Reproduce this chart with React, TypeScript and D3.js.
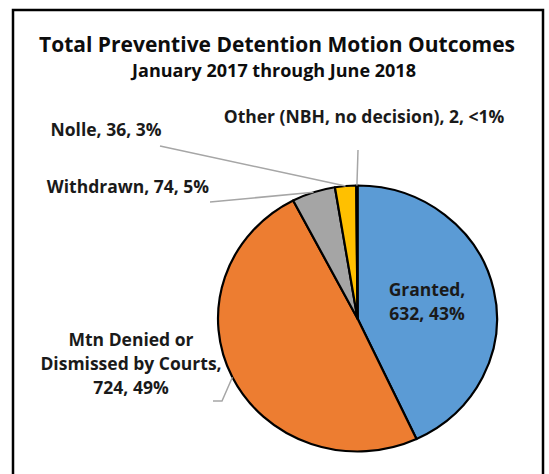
import React from 'react';
import * as d3 from 'd3';

const categories = ['Granted', 'Mtn Denied or Dismissed by Courts', 'Withdrawn', 'Nolle', 'Other (NBH, no decision)'];
const counts = [632, 724, 74, 36, 2];
const percentLabels = ['43%', '49%', '5%', '3%', '<1%'];
const sliceColors = ['#5B9BD5', '#ED7D31', '#A5A5A5', '#FFC000', '#4472C4'];

const W = 549;
const H = 474;
const cx = 357.5;
const cy = 318.5;
const rx = 139.5;
const ry = 133;
const FONT = '"Open Sans", Lato, sans-serif';

// label placement: text center, baselines, leader line start
const labelLayout = [
  { x: 427, y: 296, lines: ['Granted,', '{v}, {p}'], leader: null },
  { x: 131, y: 346, lines: ['Mtn Denied or', 'Dismissed by Courts,', '{v}, {p}'], leader: [[213, 401], [222, 401]] },
  { x: 128, y: 193, lines: ['{c}, {v}, {p}'], leader: [[210, 202]] },
  { x: 106, y: 136, lines: ['{c}, {v}, {p}'], leader: [[160, 146]] },
  { x: 364, y: 123, lines: ['{c}, {v}, {p}'], leader: [[358, 150]] },
];

const App = () => {
  const pie = d3.pie<number>().sort(null).value(d => d);
  const arcs = pie(counts);
  const arc = d3.arc<d3.PieArcDatum<number>>().innerRadius(0).outerRadius(rx);

  const edgePoint = (a: d3.PieArcDatum<number>) => {
    const mid = (a.startAngle + a.endAngle) / 2;
    return [cx + Math.sin(mid) * rx, cy - Math.cos(mid) * ry];
  };
  const line = d3.line();

  return (
    <svg width={W} height={H} style={{ position: 'absolute', left: 0, top: 0, background: '#fff' }}>
      <rect x={13} y={10} width={530} height={480} fill="#fff" stroke="#000" strokeWidth={2.5} />

      <text x={277} y={51.5} textAnchor="middle" fontFamily={FONT} fontWeight={700} fontSize={21} fill="#0d0d0d">
        Total Preventive Detention Motion Outcomes
      </text>
      <text x={274} y={76.5} textAnchor="middle" fontFamily={FONT} fontWeight={700} fontSize={18} fill="#0d0d0d">
        January 2017 through June 2018
      </text>

      <g transform={`translate(${cx},${cy}) scale(1,${ry / rx})`}>
        {arcs.map((a, i) => (
          <path
            key={categories[i]}
            d={arc(a) || ''}
            fill={sliceColors[i]}
            stroke="#000"
            strokeWidth={2.2}
            strokeLinejoin="round"
            vectorEffect="non-scaling-stroke"
          />
        ))}
      </g>

      {arcs.map((a, i) => {
        const lay = labelLayout[i];
        if (!lay.leader) return null;
        const pts = [...lay.leader, edgePoint(a)] as [number, number][];
        return <path key={'l' + i} d={line(pts) || ''} fill="none" stroke="#A6A6A6" strokeWidth={1.5} />;
      })}

      {arcs.map((a, i) => {
        const lay = labelLayout[i];
        return (
          <text key={'t' + i} textAnchor="middle" fontFamily={FONT} fontWeight={700} fontSize={17.5} fill="#1a1a1a">
            {lay.lines.map((ln, j) => (
              <tspan key={j} x={lay.x} y={lay.y + j * 24}>
                {ln.replace('{c}', categories[i]).replace('{v}', String(counts[i])).replace('{p}', percentLabels[i])}
              </tspan>
            ))}
          </text>
        );
      })}
    </svg>
  );
};

export default App;
